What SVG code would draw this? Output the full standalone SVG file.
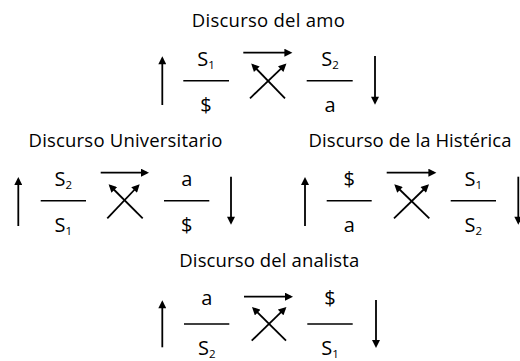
<svg xmlns="http://www.w3.org/2000/svg" width="520" height="361" viewBox="0 0 520 361">
<style>
.t{font-family:"Open Sans","Noto Sans",sans-serif;font-size:18.5px;fill:#000;text-anchor:middle}
.f{font-family:"Open Sans","Noto Sans",sans-serif;font-size:20px;fill:#000;text-anchor:middle}
.sub{font-size:11.5px}
.bar{stroke:#000;stroke-width:1.6;fill:none}
.ar{stroke:#000;stroke-width:1.8;fill:none;marker-end:url(#ah)}
</style>
<defs>
<marker id="ah" viewBox="0 0 10 10" refX="7" refY="5" markerWidth="9" markerHeight="8" markerUnits="userSpaceOnUse" orient="auto">
<path d="M0,0 L10,5 L0,10 z" fill="#000"/>
</marker>
</defs>
<rect width="520" height="361" fill="#fff"/>

<!-- Discurso del amo -->
<g id="amo">
<text class="t" x="268.3" y="27" textLength="153" lengthAdjust="spacing">Discurso del amo</text>
<g id="amo-left">
<text class="f" x="206" y="66">S<tspan class="sub" dy="3">1</tspan></text>
<line class="bar" x1="183.3" y1="80.7" x2="229" y2="80.7"/>
<text class="f" x="206" y="111.5">$</text>
</g>
<g id="amo-right">
<text class="f" x="330" y="66">S<tspan class="sub" dy="3">2</tspan></text>
<line class="bar" x1="306.7" y1="80.7" x2="352.7" y2="80.7"/>
<text class="f" x="330" y="111.5">a</text>
</g>
</g>

<!-- Discurso Universitario -->
<g id="universitario">
<text class="t" x="125.5" y="147.3" textLength="194" lengthAdjust="spacing">Discurso Universitario</text>
<g id="uni-left">
<text class="f" x="63.3" y="185.5">S<tspan class="sub" dy="3">2</tspan></text>
<line class="bar" x1="40.7" y1="200.7" x2="86" y2="200.7"/>
<text class="f" x="63.3" y="231.5">S<tspan class="sub" dy="3">1</tspan></text>
</g>
<g id="uni-right">
<text class="f" x="186.7" y="185.5">a</text>
<line class="bar" x1="164" y1="200.7" x2="209.3" y2="200.7"/>
<text class="f" x="186.7" y="231.5">$</text>
</g>
</g>

<!-- Discurso de la Histérica -->
<g id="histerica">
<text class="t" x="410" y="147.3" textLength="203" lengthAdjust="spacing">Discurso de la Histérica</text>
<g id="his-left">
<text class="f" x="349.2" y="185.5">$</text>
<line class="bar" x1="326.7" y1="200.7" x2="371.7" y2="200.7"/>
<text class="f" x="349.2" y="231.5">a</text>
</g>
<g id="his-right">
<text class="f" x="473.3" y="185.5">S<tspan class="sub" dy="3">1</tspan></text>
<line class="bar" x1="450.7" y1="200.7" x2="496" y2="200.7"/>
<text class="f" x="473.3" y="231.5">S<tspan class="sub" dy="3">2</tspan></text>
</g>
</g>

<!-- Discurso del analista -->
<g id="analista">
<text class="t" x="269.3" y="266.7" textLength="180" lengthAdjust="spacing">Discurso del analista</text>
<g id="ana-left">
<text class="f" x="206.7" y="305">a</text>
<line class="bar" x1="184" y1="324" x2="229.3" y2="324"/>
<text class="f" x="206.7" y="355">S<tspan class="sub" dy="3">2</tspan></text>
</g>
<g id="ana-right">
<text class="f" x="330" y="305">$</text>
<line class="bar" x1="307.3" y1="324" x2="352.7" y2="324"/>
<text class="f" x="330" y="355">S<tspan class="sub" dy="3">1</tspan></text>
</g>
</g>

<g id="connectors">
<!-- amo -->
<line class="ar" x1="162.3" y1="105" x2="162.3" y2="58.7"/>
<line class="ar" x1="243.3" y1="52.7" x2="290" y2="52.7"/>
<line class="ar" x1="250" y1="98.3" x2="284.7" y2="65.2"/>
<line class="ar" x1="285" y1="98.3" x2="252.9" y2="65.2"/>
<line class="ar" x1="375" y1="56" x2="375" y2="102.3"/>
<!-- universitario -->
<line class="ar" x1="18.3" y1="226" x2="18.3" y2="179.4"/>
<line class="ar" x1="100.7" y1="172.7" x2="146.6" y2="172.7"/>
<line class="ar" x1="107.3" y1="218.3" x2="138" y2="186"/>
<line class="ar" x1="142.7" y1="218.3" x2="110.3" y2="186"/>
<line class="ar" x1="231" y1="176.7" x2="231" y2="222.3"/>
<!-- histerica -->
<line class="ar" x1="305" y1="226" x2="305" y2="179.4"/>
<line class="ar" x1="386.7" y1="172.7" x2="434" y2="172.7"/>
<line class="ar" x1="394" y1="218.3" x2="427.3" y2="186"/>
<line class="ar" x1="429.3" y1="218.3" x2="396" y2="186"/>
<line class="ar" x1="518.3" y1="176.7" x2="518.3" y2="222.3"/>
<!-- analista -->
<line class="ar" x1="162.3" y1="347.3" x2="162.3" y2="302.7"/>
<line class="ar" x1="244" y1="296.7" x2="290.6" y2="296.7"/>
<line class="ar" x1="251.7" y1="340.7" x2="284.7" y2="308.6"/>
<line class="ar" x1="286" y1="340.7" x2="253.7" y2="308.6"/>
<line class="ar" x1="376" y1="300" x2="376" y2="345.6"/>
</g>
</svg>
